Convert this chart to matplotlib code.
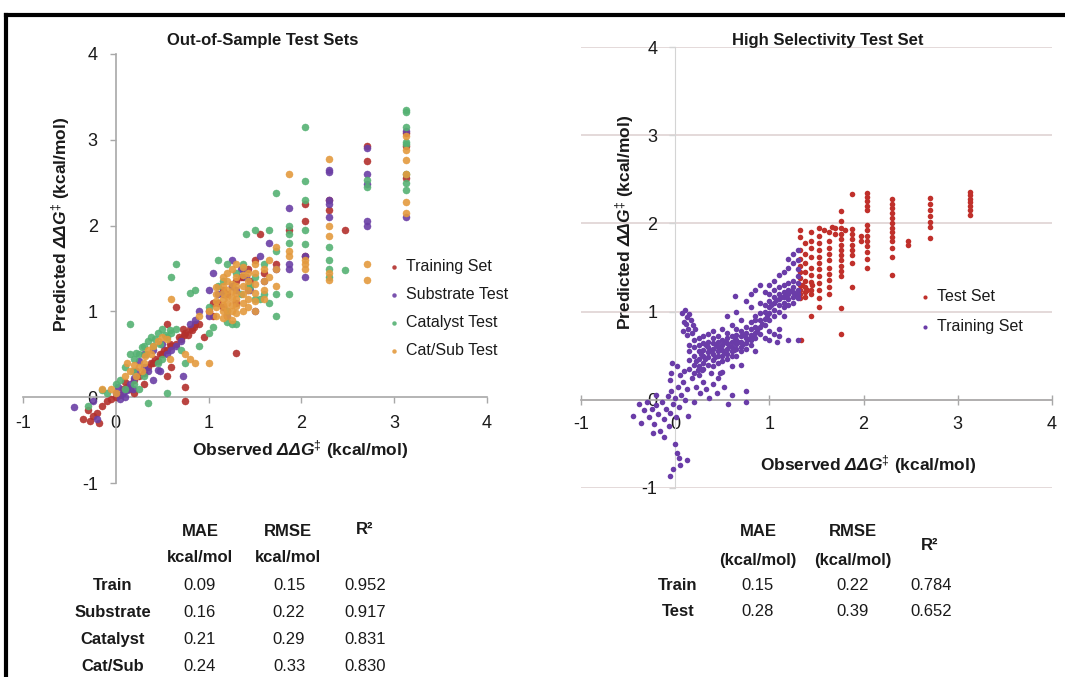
import matplotlib
matplotlib.use("Agg")
import matplotlib.pyplot as plt
from matplotlib.lines import Line2D
from matplotlib import font_manager

# ===== fonts =====
names = {f.name for f in font_manager.fontManager.ttflist}
NARROW = "Liberation Sans Narrow" if "Liberation Sans Narrow" in names else "Liberation Sans"
plt.rcParams["font.family"] = [NARROW, "Liberation Sans", "DejaVu Sans"]
plt.rcParams["axes.unicode_minus"] = False
plt.rcParams["mathtext.fontset"] = "custom"
plt.rcParams["mathtext.rm"] = NARROW
plt.rcParams["mathtext.it"] = NARROW + ":italic"
plt.rcParams["mathtext.bf"] = NARROW + ":bold"
plt.rcParams["mathtext.bfit"] = NARROW + ":italic:bold"

# ===== data: left panel (observed, predicted) =====
training_set = [
    (-0.35, -0.25), (-0.3, -0.15), (-0.28, -0.28), (-0.25, -0.22), (-0.2, -0.18), (-0.18, -0.3),
    (-0.15, -0.1), (-0.1, -0.05), (-0.05, -0.02), (0.0, 0.0), (0.05, 0.02), (0.08, 0.1),
    (0.1, 0.18), (0.12, 0.12), (0.15, 0.1), (0.2, 0.2), (0.2, 0.05), (0.25, 0.25), (0.3, 0.28),
    (0.3, 0.15), (0.35, 0.35), (0.38, 0.4), (0.4, 0.4), (0.42, 0.45), (0.45, 0.42), (0.48, 0.5),
    (0.5, 0.5), (0.52, 0.55), (0.55, 0.55), (0.55, 0.25), (0.55, 0.85), (0.58, 0.62), (0.6, 0.6),
    (0.6, 0.35), (0.65, 0.62), (0.65, 1.05), (0.68, 0.7), (0.7, 0.68), (0.72, 0.8), (0.74, 0.72),
    (0.75, 0.75), (0.75, 0.12), (0.75, -0.05), (0.78, 0.72), (0.8, 0.8), (0.82, 0.78),
    (0.84, 0.82), (0.85, 0.85), (0.9, 0.85), (0.95, 0.7), (1.0, 1.0), (1.05, 0.95), (1.05, 1.1),
    (1.1, 1.1), (1.15, 1.05), (1.15, 1.25), (1.2, 1.2), (1.25, 1.3), (1.3, 1.1), (1.3, 1.35),
    (1.3, 0.52), (1.35, 1.4), (1.37, 1.4), (1.42, 1.5), (1.45, 1.35), (1.5, 1.6), (1.55, 1.9),
    (1.6, 1.45), (1.73, 1.55), (1.87, 1.95), (2.04, 2.25), (2.04, 2.05), (2.04, 1.65), (2.3, 2.3),
    (2.3, 2.18), (2.47, 1.95), (2.71, 2.93), (2.71, 2.75), (3.13, 3.08), (3.13, 2.93), (3.13, 2.55),
]
substrate_test = [
    (-0.45, -0.12), (-0.25, -0.05), (-0.2, -0.25), (0.0, 0.05), (0.02, 0.12), (0.05, -0.02),
    (0.08, 0.05), (0.1, 0.0), (0.12, 0.08), (0.15, 0.15), (0.18, 0.1), (0.2, 0.22), (0.22, 0.3),
    (0.25, 0.42), (0.3, 0.35), (0.3, 0.5), (0.35, 0.3), (0.4, 0.2), (0.4, 0.55), (0.45, 0.32),
    (0.48, 0.3), (0.5, 0.62), (0.55, 0.5), (0.6, 0.55), (0.65, 0.6), (0.7, 0.65), (0.72, 0.25),
    (0.8, 0.85), (0.85, 0.9), (0.9, 1.0), (1.0, 1.25), (1.0, 0.95), (1.05, 1.45), (1.1, 1.2),
    (1.15, 1.2), (1.2, 0.95), (1.25, 1.6), (1.25, 1.3), (1.3, 1.25), (1.35, 1.5), (1.37, 1.5),
    (1.4, 1.4), (1.42, 1.25), (1.45, 1.25), (1.5, 1.0), (1.55, 1.65), (1.6, 1.35), (1.65, 1.8),
    (1.73, 1.5), (1.87, 2.2), (1.87, 1.55), (1.87, 1.5), (2.04, 1.4), (2.04, 1.65), (2.3, 2.62),
    (2.3, 2.65), (2.3, 2.3), (2.3, 2.25), (2.3, 2.1), (2.71, 2.9), (2.71, 2.6), (2.71, 2.48),
    (2.71, 2.05), (2.71, 2.0), (3.13, 2.1), (3.13, 3.1),
]
catalyst_test = [
    (-0.3, -0.1), (-0.15, 0.08), (-0.1, 0.05), (0.0, 0.15), (0.05, 0.2), (0.1, 0.1), (0.1, 0.35),
    (0.15, 0.5), (0.15, 0.85), (0.18, 0.3), (0.2, 0.45), (0.2, 0.15), (0.22, 0.52), (0.25, 0.5),
    (0.25, 0.1), (0.28, 0.58), (0.3, 0.6), (0.3, 0.25), (0.33, 0.5), (0.35, 0.65), (0.35, -0.07),
    (0.38, 0.7), (0.4, 0.6), (0.42, 0.68), (0.45, 0.75), (0.45, 0.4), (0.48, 0.62), (0.5, 0.8),
    (0.5, 0.45), (0.53, 0.72), (0.55, 0.7), (0.55, 0.05), (0.58, 0.78), (0.6, 0.75), (0.6, 1.4),
    (0.65, 0.8), (0.65, 1.55), (0.7, 0.55), (0.75, 0.4), (0.8, 1.22), (0.85, 1.25), (0.9, 0.6),
    (1.0, 0.75), (1.0, 1.05), (1.05, 0.82), (1.1, 1.6), (1.1, 1.3), (1.15, 1.35), (1.2, 1.55),
    (1.2, 1.0), (1.2, 0.88), (1.25, 0.85), (1.3, 1.45), (1.3, 0.85), (1.35, 1.2), (1.37, 1.55),
    (1.4, 1.9), (1.42, 1.3), (1.45, 1.3), (1.5, 1.95), (1.5, 1.15), (1.5, 1.4), (1.55, 1.15),
    (1.6, 1.55), (1.6, 1.2), (1.65, 1.95), (1.65, 1.1), (1.73, 2.38), (1.73, 1.7), (1.73, 1.2),
    (1.73, 0.95), (1.87, 2.0), (1.87, 1.9), (1.87, 1.8), (1.87, 1.2), (2.04, 3.15), (2.04, 2.52),
    (2.04, 2.3), (2.04, 1.95), (2.04, 1.78), (2.3, 1.75), (2.3, 1.6), (2.3, 1.5), (2.3, 1.4),
    (2.47, 1.48), (2.71, 2.53), (2.71, 2.45), (3.13, 3.35), (3.13, 3.32), (3.13, 3.15),
    (3.13, 2.98), (3.13, 2.95), (3.13, 2.6), (3.13, 2.5), (3.13, 2.42),
]
catsub_test = [
    (-0.15, 0.1), (-0.05, 0.1), (0.0, 0.05), (0.1, 0.25), (0.12, 0.4), (0.15, 0.3), (0.2, 0.38),
    (0.22, 0.25), (0.25, 0.35), (0.28, 0.3), (0.3, 0.4), (0.32, 0.48), (0.35, 0.55), (0.38, 0.5),
    (0.4, 0.6), (0.45, 0.65), (0.5, 0.7), (0.55, 0.68), (0.58, 0.45), (0.6, 1.15), (0.75, 0.5),
    (0.8, 0.45), (0.85, 0.4), (1.0, 0.4), (0.9, 0.95), (1.0, 1.0),
    (1.08, 0.95), (1.08, 1.05), (1.08, 1.12), (1.08, 1.2), (1.08, 1.28),
    (1.15, 0.92), (1.15, 1.0), (1.15, 1.08), (1.15, 1.15), (1.15, 1.22), (1.15, 1.3), (1.15, 1.4),
    (1.2, 0.95), (1.2, 1.02), (1.2, 1.1), (1.2, 1.18), (1.2, 1.25), (1.2, 1.35), (1.2, 1.45),
    (1.25, 0.9), (1.25, 1.0), (1.25, 1.08), (1.25, 1.16), (1.25, 1.24), (1.25, 1.32), (1.25, 1.5),
    (1.3, 0.98), (1.3, 1.06), (1.3, 1.14), (1.3, 1.22), (1.3, 1.3), (1.3, 1.4), (1.3, 1.55),
    (1.37, 1.0), (1.37, 1.1), (1.37, 1.2), (1.37, 1.3), (1.37, 1.42), (1.37, 1.52),
    (1.42, 1.05), (1.42, 1.15), (1.42, 1.25), (1.42, 1.35), (1.42, 1.45),
    (1.5, 1.0), (1.5, 1.12), (1.5, 1.22), (1.5, 1.32), (1.5, 1.45), (1.5, 1.55),
    (1.6, 1.15), (1.6, 1.25), (1.6, 1.35), (1.6, 1.5), (1.65, 1.4), (1.65, 1.6),
    (1.73, 1.75), (1.73, 1.5), (1.73, 1.3), (1.87, 2.6), (1.87, 1.7), (1.87, 1.65), (2.04, 1.55),
    (2.04, 1.5), (2.04, 1.6), (2.3, 2.78), (2.3, 2.0), (2.3, 1.88), (2.3, 1.45), (2.3, 1.37),
    (2.71, 1.55), (2.71, 1.37), (3.13, 3.05), (3.13, 2.88), (3.13, 2.76), (3.13, 2.6),
    (3.13, 2.27), (3.13, 2.15),
]

# ===== data: right panel =====
hs_training = [
    # low tail
    (-0.45, -0.18), (-0.38, -0.05), (-0.36, -0.26), (-0.33, -0.12), (-0.3, -0.02), (-0.28, -0.2),
    (-0.25, -0.1), (-0.24, -0.38), (-0.22, -0.28), (-0.2, -0.06), (-0.2, 0.05), (-0.18, -0.16),
    (-0.16, -0.35), (-0.14, -0.02), (-0.12, -0.22), (-0.12, -0.42), (-0.1, -0.1), (-0.08, 0.04),
    (-0.07, -0.3), (-0.06, 0.22), (-0.05, -0.15), (-0.04, 0.1), (-0.04, 0.3), (-0.03, 0.42),
    (-0.02, -0.05), (0.0, 0.02), (0.01, -0.2), (0.02, 0.38), (0.03, 0.14), (0.04, -0.08),
    (0.05, 0.28), (0.06, 0.06), (0.08, 0.2), (0.09, 0.33), (0.1, 0.0), (0.12, 0.12),
    (0.14, -0.18), (0.0, -0.5), (0.02, -0.6), (0.04, -0.66), (-0.02, -0.78), (0.05, -0.74),
    (-0.06, -0.86), (0.12, -0.68),
    # low right scatter
    (0.18, 0.25), (0.2, -0.02), (0.22, 0.15), (0.24, 0.34), (0.26, 0.08), (0.28, 0.34),
    (0.3, 0.2), (0.33, 0.12), (0.36, 0.02), (0.38, 0.3), (0.4, 0.18), (0.44, 0.08), (0.45, 0.25),
    (0.48, 0.3), (0.52, 0.14), (0.56, -0.05), (0.6, 0.05), (0.75, 0.1), (0.75, -0.02),
    # upper-left cluster
    (0.07, 0.98), (0.08, 0.78), (0.09, 0.88), (0.1, 1.02), (0.11, 0.86), (0.12, 0.94),
    (0.13, 0.74), (0.14, 0.8), (0.15, 0.97), (0.17, 0.9), (0.18, 0.76), (0.19, 0.85), (0.21, 0.8),
    # main band
    (0.15, 0.35), (0.15, 0.45), (0.15, 0.55), (0.15, 0.62),
    (0.2, 0.3), (0.2, 0.4), (0.2, 0.5), (0.2, 0.6), (0.2, 0.68),
    (0.25, 0.28), (0.25, 0.38), (0.25, 0.46), (0.25, 0.55), (0.25, 0.62), (0.25, 0.7),
    (0.3, 0.35), (0.3, 0.42), (0.3, 0.5), (0.3, 0.56), (0.3, 0.64), (0.3, 0.72),
    (0.35, 0.4), (0.35, 0.48), (0.35, 0.54), (0.35, 0.6), (0.35, 0.66), (0.35, 0.75),
    (0.4, 0.38), (0.4, 0.45), (0.4, 0.52), (0.4, 0.58), (0.4, 0.64), (0.4, 0.7), (0.4, 0.78),
    (0.45, 0.42), (0.45, 0.5), (0.45, 0.55), (0.45, 0.6), (0.45, 0.66), (0.45, 0.72),
    (0.5, 0.32), (0.5, 0.44), (0.5, 0.5), (0.5, 0.56), (0.5, 0.62), (0.5, 0.68), (0.5, 0.8),
    (0.55, 0.46), (0.55, 0.52), (0.55, 0.58), (0.55, 0.64), (0.55, 0.7), (0.55, 0.76), (0.55, 0.95),
    (0.6, 0.38), (0.6, 0.5), (0.6, 0.55), (0.6, 0.6), (0.6, 0.66), (0.6, 0.72), (0.6, 0.85),
    (0.63, 1.18), (0.65, 0.5), (0.65, 0.58), (0.65, 0.63), (0.65, 0.68), (0.65, 0.74), (0.65, 0.8),
    (0.65, 1.0), (0.7, 0.4), (0.7, 0.55), (0.7, 0.6), (0.7, 0.66), (0.7, 0.72), (0.7, 0.78),
    (0.7, 0.9), (0.75, 0.58), (0.75, 0.64), (0.75, 0.7), (0.75, 0.76), (0.75, 0.82), (0.75, 1.12),
    (0.8, 0.62), (0.8, 0.68), (0.8, 0.74), (0.8, 0.8), (0.8, 0.88), (0.8, 1.05), (0.8, 1.2),
    (0.85, 0.55), (0.85, 0.7), (0.85, 0.76), (0.85, 0.82), (0.85, 0.9), (0.85, 0.95), (0.85, 1.25),
    (0.9, 0.75), (0.9, 0.82), (0.9, 0.9), (0.9, 0.98), (0.9, 1.1), (0.9, 1.3),
    (0.95, 0.7), (0.95, 0.85), (0.95, 0.92), (0.95, 1.0), (0.95, 1.08), (0.95, 1.22),
    (1.0, 0.68), (1.0, 0.78), (1.0, 0.9), (1.0, 0.98), (1.0, 1.05), (1.0, 1.12), (1.0, 1.2), (1.0, 1.3),
    (1.05, 0.75), (1.05, 0.95), (1.05, 1.02), (1.05, 1.1), (1.05, 1.16), (1.05, 1.25), (1.05, 1.35),
    (1.08, 0.66), (1.1, 0.72), (1.1, 0.8), (1.1, 1.0), (1.1, 1.08), (1.1, 1.14), (1.1, 1.2),
    (1.1, 1.28), (1.1, 1.42), (1.15, 0.95), (1.15, 1.05), (1.15, 1.1), (1.15, 1.16), (1.15, 1.22),
    (1.15, 1.3), (1.15, 1.45), (1.2, 0.68), (1.2, 1.08), (1.2, 1.14), (1.2, 1.2), (1.2, 1.25),
    (1.2, 1.32), (1.2, 1.5), (1.2, 1.6), (1.25, 1.1), (1.25, 1.16), (1.25, 1.22), (1.25, 1.28),
    (1.25, 1.35), (1.25, 1.55), (1.25, 1.65), (1.3, 0.68), (1.3, 1.15), (1.3, 1.2), (1.3, 1.25),
    (1.3, 1.32), (1.3, 1.4), (1.3, 1.48), (1.3, 1.58), (1.3, 1.7),
    # extra fill in the dense band
    (0.22, 0.44), (0.27, 0.52), (0.32, 0.46), (0.37, 0.57), (0.42, 0.49), (0.47, 0.58),
    (0.52, 0.53), (0.57, 0.61), (0.62, 0.57), (0.67, 0.65), (0.72, 0.63), (0.77, 0.69),
    (0.82, 0.72), (0.87, 0.79), (0.92, 0.86), (0.97, 0.95), (1.02, 1.08), (1.07, 1.13),
    (1.12, 1.17), (1.17, 1.19), (1.22, 1.23), (1.27, 1.2), (0.33, 0.62), (0.43, 0.62),
    (0.53, 0.66), (0.63, 0.7), (0.73, 0.74),
]
hs_test = [
    (1.32, 1.92), (1.32, 1.85), (1.32, 1.7), (1.32, 1.6), (1.32, 1.52), (1.32, 1.45), (1.32, 1.38),
    (1.32, 1.3), (1.32, 1.25), (1.32, 1.2), (1.32, 1.15), (1.34, 0.68),
    (1.38, 1.78), (1.38, 1.65), (1.38, 1.55), (1.38, 1.45), (1.38, 1.35), (1.38, 1.28),
    (1.38, 1.22), (1.38, 1.17), (1.35, 1.3), (1.4, 1.25), (1.45, 1.3),
    (1.44, 1.9), (1.44, 1.8), (1.44, 1.72), (1.44, 1.62), (1.44, 1.5), (1.44, 1.42),
    (1.44, 1.33), (1.44, 1.25), (1.44, 1.2), (1.44, 0.95),
    (1.53, 1.95), (1.53, 1.86), (1.53, 1.78), (1.53, 1.7), (1.53, 1.62), (1.53, 1.55),
    (1.53, 1.48), (1.53, 1.4), (1.53, 1.32), (1.53, 1.25), (1.53, 1.15), (1.53, 1.05),
    (1.58, 1.92), (1.63, 1.9), (1.63, 1.8), (1.63, 1.72), (1.63, 1.65), (1.63, 1.58),
    (1.63, 1.5), (1.63, 1.43), (1.63, 1.36), (1.63, 1.28), (1.63, 1.2), (1.66, 1.96),
    (1.7, 1.95), (1.7, 1.88),
    (1.76, 2.14), (1.76, 2.03), (1.76, 1.95), (1.76, 1.88), (1.76, 1.82), (1.76, 1.76),
    (1.76, 1.7), (1.76, 1.64), (1.76, 1.58), (1.76, 1.52), (1.76, 1.46), (1.76, 1.4),
    (1.76, 1.04), (1.76, 0.75), (1.8, 1.92),
    (1.88, 2.33), (1.88, 1.94), (1.88, 1.88), (1.88, 1.82), (1.88, 1.76), (1.88, 1.7),
    (1.88, 1.64), (1.88, 1.55), (1.88, 1.28), (1.97, 1.86), (1.97, 1.8),
    (2.04, 2.35), (2.04, 2.3), (2.04, 2.25), (2.04, 2.2), (2.04, 2.15), (2.04, 1.98),
    (2.04, 1.92), (2.04, 1.86), (2.04, 1.8), (2.04, 1.74), (2.04, 1.68), (2.04, 1.6), (2.04, 1.5),
    (2.3, 2.28), (2.3, 2.22), (2.3, 2.17), (2.3, 2.12), (2.3, 2.06), (2.3, 2.0), (2.3, 1.95),
    (2.3, 1.9), (2.3, 1.85), (2.3, 1.8), (2.3, 1.72), (2.3, 1.62), (2.3, 1.41),
    (2.47, 1.8), (2.47, 1.75),
    (2.71, 2.29), (2.71, 2.22), (2.71, 2.15), (2.71, 2.08), (2.71, 2.02), (2.71, 1.96), (2.71, 1.83),
    (3.13, 2.36), (3.13, 2.32), (3.13, 2.28), (3.13, 2.24), (3.13, 2.2), (3.13, 2.15), (3.13, 2.1),
]

# ===== tables =====
left_rows = ["Train", "Substrate", "Catalyst", "Cat/Sub"]
left_mae = ["0.09", "0.16", "0.21", "0.24"]
left_rmse = ["0.15", "0.22", "0.29", "0.33"]
left_r2 = ["0.952", "0.917", "0.831", "0.830"]
right_rows = ["Train", "Test"]
right_mae = ["0.15", "0.28"]
right_rmse = ["0.22", "0.39"]
right_r2 = ["0.784", "0.652"]

LEFT_SERIES = [
    ("Training Set", training_set, "#b3302c"),
    ("Substrate Test", substrate_test, "#6b3fa5"),
    ("Catalyst Test", catalyst_test, "#55b273"),
    ("Cat/Sub Test", catsub_test, "#e49a3e"),
]
AXIS_GRAY = "#a8a8a8"
TXT = "#1a1a1a"
W, H = 1065, 677
LABEL_FS = 12.5
XLAB = r"Observed $\mathbfit{\Delta\Delta G}^{\ddagger}$ (kcal/mol)"
YLAB = r"Predicted $\mathbfit{\Delta\Delta G}^{\ddagger}$ (kcal/mol)"

fig = plt.figure(figsize=(W / 100, H / 100), dpi=100)


def px_box(x0, x1, y_top, y_bot):
    return [x0 / W, 1 - y_bot / H, (x1 - x0) / W, (y_bot - y_top) / H]


# ===== left panel =====
ax1 = fig.add_axes(px_box(23, 487, 54, 483))
for name, pts, color in LEFT_SERIES:
    xs, ys = zip(*pts)
    ax1.scatter(xs, ys, s=26, color=color, edgecolors=color, linewidths=0.3, alpha=0.9,
                label=name, zorder=3)
ax1.set_xlim(-1, 4)
ax1.set_ylim(-1, 4)
for side in ["top", "right"]:
    ax1.spines[side].set_visible(False)
ax1.spines["left"].set_position(("data", 0))
ax1.spines["bottom"].set_position(("data", 0))
for side in ["left", "bottom"]:
    ax1.spines[side].set_color(AXIS_GRAY)
    ax1.spines[side].set_linewidth(1.2)
ax1.set_xticks([-1, 0, 1, 2, 3, 4])
ax1.set_yticks([-1, 0, 1, 2, 3, 4])
ax1.tick_params(direction="out", length=4, width=1, color=AXIS_GRAY, labelsize=13,
                labelcolor=TXT, pad=9)
ax1.set_facecolor("none")
ax1.set_xlabel(XLAB, fontsize=LABEL_FS, fontweight="bold", color=TXT, va="center")
ax1.xaxis.set_label_coords((300 - 23) / 464, (483 - 450) / 429)
ax1.set_ylabel(YLAB, fontsize=LABEL_FS, fontweight="bold", color=TXT, va="center")
ax1.yaxis.set_label_coords((61 - 23) / 464, (483 - 224) / 429)
leg1 = ax1.legend(loc="upper left", bbox_to_anchor=((390 - 23) / 464, (483 - 259) / 429),
                  frameon=False, fontsize=11.5, handlelength=0.5, handletextpad=0.5,
                  labelspacing=0.82, borderpad=0, borderaxespad=0, markerscale=0.55)
for t in leg1.get_texts():
    t.set_color(TXT)

# ===== right panel =====
ax2 = fig.add_axes(px_box(581, 1052, 47, 488))
xs, ys = zip(*hs_test)
ax2.scatter(xs, ys, s=16, color="#c0302b", linewidths=0, label="Test Set", zorder=3)
xs, ys = zip(*hs_training)
ax2.scatter(xs, ys, s=16, color="#6a3ca8", linewidths=0, label="Training Set", zorder=3)
ax2.set_xlim(-1, 4)
ax2.set_ylim(-1, 4)
for side in ["top", "right"]:
    ax2.spines[side].set_visible(False)
ax2.spines["left"].set_position(("data", 0))
ax2.spines["bottom"].set_position(("data", 0))
ax2.spines["left"].set_color("#d4d4d4")
ax2.spines["bottom"].set_color(AXIS_GRAY)
ax2.spines["bottom"].set_linewidth(1.2)
ax2.set_xticks([-1, 0, 1, 2, 3, 4])
ax2.set_yticks([-1, 0, 1, 2, 3, 4])
ax2.yaxis.grid(True, color="#dccfcf", linewidth=1.1)
ax2.set_axisbelow(True)
ax2.tick_params(axis="x", direction="inout", length=7, width=1, color=AXIS_GRAY,
                labelsize=13, labelcolor=TXT, pad=8)
ax2.tick_params(axis="y", direction="out", length=4, width=1, color="#d4d4d4",
                labelsize=13, labelcolor=TXT, pad=9)
ax2.set_facecolor("none")
ax2.set_xlabel(XLAB, fontsize=LABEL_FS, fontweight="bold", color=TXT, va="center")
ax2.xaxis.set_label_coords((868 - 581) / 471, (488 - 465) / 441)
ax2.set_ylabel(YLAB, fontsize=LABEL_FS, fontweight="bold", color=TXT, va="center")
ax2.yaxis.set_label_coords((625 - 581) / 471, (488 - 222) / 441)
leg2 = ax2.legend(loc="upper left", bbox_to_anchor=((921 - 581) / 471, (488 - 289) / 441),
                  frameon=False, fontsize=11.5, handlelength=0.5, handletextpad=0.5,
                  labelspacing=0.95, borderpad=0, borderaxespad=0, markerscale=0.75)
for t in leg2.get_texts():
    t.set_color(TXT)

# ===== titles =====
fig.text(263 / W, 1 - 40 / H, "Out-of-Sample Test Sets", ha="center", va="center",
         fontsize=12, fontweight="bold", color=TXT)
fig.text(828 / W, 1 - 40 / H, "High Selectivity Test Set", ha="center", va="center",
         fontsize=12, fontweight="bold", color=TXT)


def ftext(x, y, s, bold=False):
    fig.text(x / W, 1 - y / H, s, ha="center", va="center", fontsize=12,
             fontweight="bold" if bold else "normal", color=TXT)


# ===== left table =====
ftext(200, 532, "MAE", True)
ftext(288, 532, "RMSE", True)
ftext(365, 530, "R²", True)
ftext(200, 557, "kcal/mol", True)
ftext(288, 557, "kcal/mol", True)
for i, row in enumerate(left_rows):
    y = 586 + i * 26.7
    ftext(113, y, row, True)
    ftext(200, y, left_mae[i])
    ftext(289, y, left_rmse[i])
    ftext(365, y, left_r2[i])

# ===== right table =====
ftext(758, 532, "MAE", True)
ftext(853, 532, "RMSE", True)
ftext(758, 560, "(kcal/mol)", True)
ftext(853, 560, "(kcal/mol)", True)
ftext(930, 545, "R²", True)
for i, row in enumerate(right_rows):
    y = 585 + i * 26
    ftext(678, y, row, True)
    ftext(758, y, right_mae[i])
    ftext(853, y, right_rmse[i])
    ftext(931, y, right_r2[i])

# ===== frame lines =====
fig.add_artist(Line2D([6 / W, 1.0], [1 - 15 / H] * 2, color="black", linewidth=3))
fig.add_artist(Line2D([6 / W] * 2, [0, 1 - 15 / H], color="black", linewidth=3))

fig.savefig("out.png", dpi=100, facecolor="white")
